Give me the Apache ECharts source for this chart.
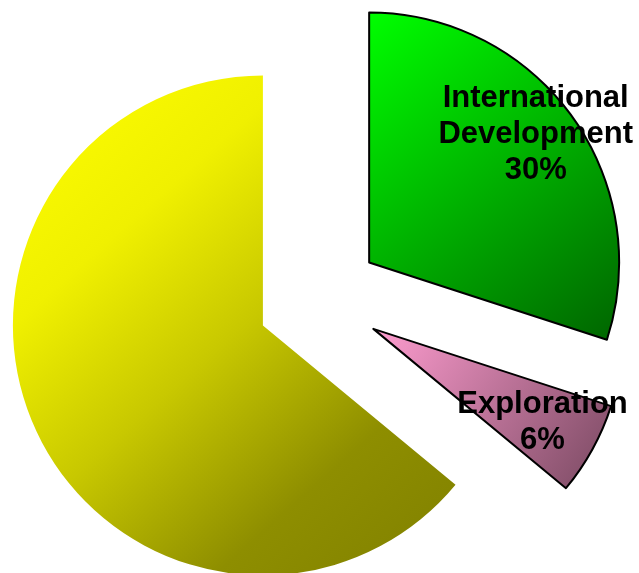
<!DOCTYPE html>
<html>
<head>
<meta charset="utf-8">
<script src="https://cdn.jsdelivr.net/npm/echarts@6/dist/echarts.min.js"></script>
<style>
  html, body { margin: 0; padding: 0; background: #ffffff; }
  #chart { width: 639px; height: 573px; }
</style>
</head>
<body>
<div id="chart"></div>
<script>
// Budget split, clockwise from 12 o'clock
const categories = ['International Development', 'Exploration', 'Domestic Development'];
const shares = [30, 6, 64];
const showLabel = [true, true, false];

// Fill gradients, light top-left to dark bottom-right, as [offset, colour] stops
const fillStops = [
  [[0, '#00ff00'], [1, '#006400']],
  [[0, '#ff9dd0'], [1, '#784860']],
  [[0, '#ffff00'], [0.28, '#f0f000'], [0.51, '#c8c800'], [0.76, '#8e8e00'], [1, '#808000']]
];
const borderWidths = [2, 2, 0];
// Nudges that place each label within its slice
const labelShift = [[63, -53], [57, 32], [0, 0]];

function gradient(i) {
  return new echarts.graphic.LinearGradient(0, 0, 1, 1,
    fillStops[i].map(s => ({ offset: s[0], color: s[1] })));
}

const chart = echarts.init(document.getElementById('chart'), null, { renderer: 'canvas' });

chart.setOption({
  backgroundColor: '#ffffff',
  animation: false,
  series: [{
    type: 'pie',
    center: [319, 299],
    radius: [0, 250],
    startAngle: 90,
    clockwise: true,
    selectedMode: 'multiple',
    selectedOffset: 62,
    avoidLabelOverlap: false,
    emphasis: { disabled: true },
    label: {
      position: 'inside',
      fontFamily: '"Liberation Sans", Arial, sans-serif',
      fontWeight: 'bold',
      fontSize: 31,
      lineHeight: 36,
      color: '#000000',
      align: 'center',
      formatter: p => p.name.replace(' ', '\n') + '\n' + p.percent + '%'
    },
    labelLine: { show: false },
    labelLayout: p => ({ dx: labelShift[p.dataIndex][0], dy: labelShift[p.dataIndex][1] }),
    data: categories.map((name, i) => ({
      name: name,
      value: shares[i],
      selected: true,
      label: { show: showLabel[i] },
      itemStyle: {
        color: gradient(i),
        borderColor: '#000000',
        borderWidth: borderWidths[i]
      },
      select: { itemStyle: { color: gradient(i), borderColor: '#000000', borderWidth: borderWidths[i] } }
    }))
  }]
});
</script>
</body>
</html>
